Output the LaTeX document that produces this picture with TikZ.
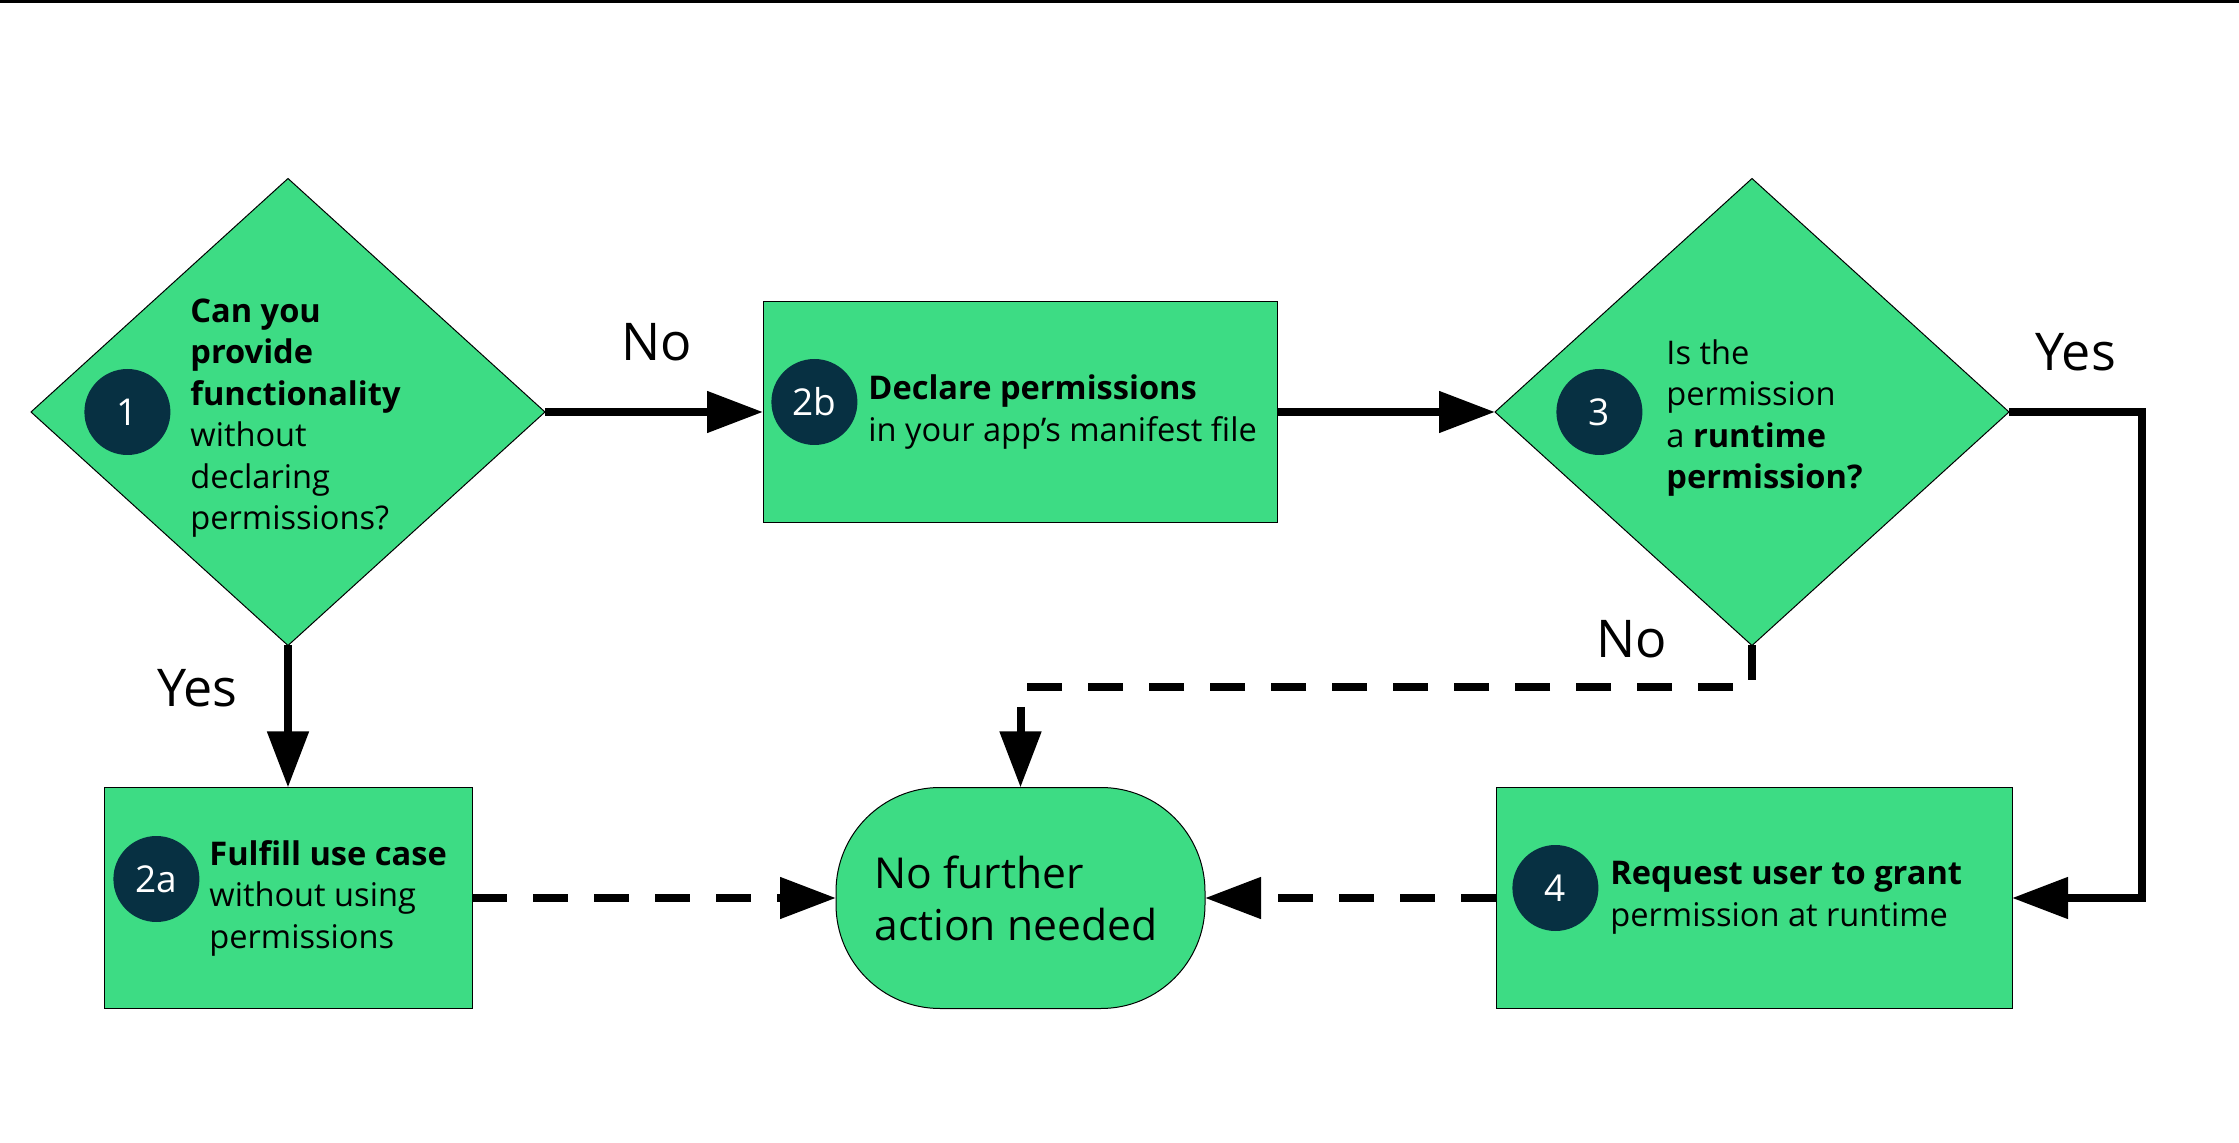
\documentclass[tikz,border=0pt]{standalone}
\usepackage{fontspec}
\setmainfont{Open Sans}
\usetikzlibrary{positioning,arrows.meta,shapes.geometric}
\definecolor{droidgreen}{HTML}{3DDC84}
\definecolor{droidnavy}{HTML}{073042}

\begin{document}
\begin{tikzpicture}[x=0.5pt,y=0.5pt,
  shapebase/.style={draw=black,line width=0.5pt,fill=droidgreen,inner sep=0pt,outer sep=0pt},
  decision/.style={shapebase,diamond,minimum width=257pt,minimum height=233.5pt},
  stepbox/.style={shapebase,rectangle,minimum height=110.5pt},
  badge/.style={circle,fill=droidnavy,text=white,minimum size=43pt,inner sep=0pt,font=\fontsize{18.5}{18.5}\selectfont},
  txt/.style={anchor=west,align=left,inner sep=0pt,font=\fontsize{16.3}{20.75}\selectfont},
  lbl/.style={inner sep=0pt,font=\fontsize{26}{26}\selectfont},
  line/.style={-{Triangle[length=28pt,width=20pt]},line width=4pt},
  dashline/.style={line,dash pattern=on 17.5pt off 13pt}]
\useasboundingbox (0,0) rectangle (2239,1142);
\fill[black] (0,1139) rectangle (2239,1142);
% top row
\node[decision] (d1) at (288,730) {};
\node[stepbox,minimum width=257pt,right=109pt of d1] (b2b) {};
\node[decision,right=109pt of b2b] (d3) {};
% bottom row
\node[stepbox,minimum width=184pt,below=71pt of d1] (b2a) {};
\node[stepbox,minimum width=184.5pt,rounded corners=52pt,right=182pt of b2a] (fin) {};
\node[stepbox,minimum width=258pt,right=145.5pt of fin] (b4) {};
% badges
\node[badge,right=26.5pt of d1.west] (n1) {1};
\node[badge,right=4pt of b2b.west,yshift=5pt] (n2b) {2b};
\node[badge,right=30.5pt of d3.west] (n3) {3};
\node[badge,right=8pt of b4.west,yshift=5pt] (n4) {4};
\node[badge,right=4.5pt of b2a.west,yshift=9.5pt] (n2a) {2a};
% texts
\node[txt,right=79.5pt of d1.west,yshift=-3pt] (t1) {\textbf{Can you}\\\textbf{provide}\\\textbf{functionality}\\without\\declaring\\permissions?};
\node[txt,right=52.5pt of b2b.west] (t2b) {\textbf{Declare permissions}\\in your app’s manifest file};
\node[txt,right=85.5pt of d3.west,yshift=-3pt] (t3) {Is the\\permission\\a \textbf{runtime}\\\textbf{permission?}};
\node[txt,right=57pt of b4.west] (t4) {\textbf{Request user to grant}\\permission at runtime};
\node[txt,right=52.5pt of b2a.west] (t2a) {\textbf{Fulfill use case}\\without using\\permissions};
\node[txt,font=\fontsize{21.3}{26}\selectfont,right=19pt of fin.west] (t5) {No further\\action needed};
% connectors
\draw[line] (d1.south) -- (b2a.north);
\draw[line] (d1.east) -- (b2b.west);
\draw[line] (b2b.east) -- (d3.west);
\coordinate[right=66.5pt of d3.east] (c3);
\draw[line] (d3.east) -- (c3) |- (b4.east);
\coordinate[below=21pt of d3.south] (c3n);
\draw[dashline] (d3.south) -- (c3n) -| (fin.north);
\draw[dashline] (b2a.east) -- (fin.west);
\draw[dashline] (b4.west) -- (fin.east);
% labels
\node[lbl,anchor=base west] (no1) at ([xshift=38pt,yshift=25.5pt]d1.east) {No};
\node[lbl,anchor=base east] (yes1) at ([xshift=-25pt,yshift=-30.5pt]d1.south) {Yes};
\node[lbl,anchor=base west] (yes3) at ([xshift=13pt,yshift=20.5pt]d3.east) {Yes};
\node[lbl,anchor=base east] (no3) at ([xshift=-42.5pt,yshift=-6pt]d3.south) {No};
\end{tikzpicture}
\end{document}
